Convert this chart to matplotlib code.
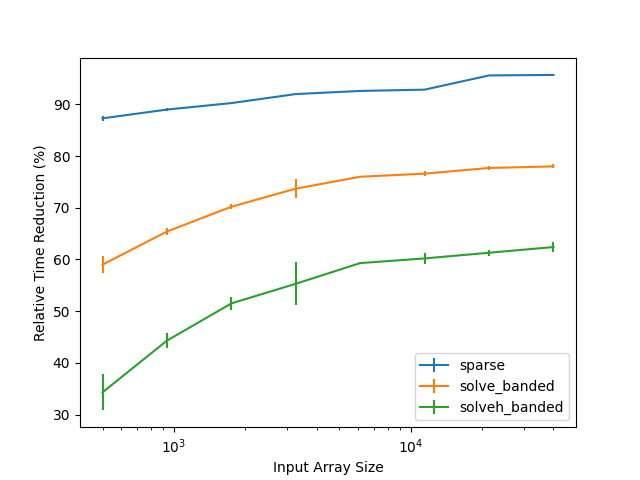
import matplotlib
matplotlib.use("Agg")
import matplotlib.pyplot as plt

sizes = [500, 935, 1749, 3271, 6117, 11439, 21392, 40000]

sparse = [87.3, 89.0, 90.25, 92.0, 92.6, 92.85, 95.6, 95.7]
sparse_err = [0.5, 0.25, 0.1, 0.1, 0.1, 0.1, 0.1, 0.1]

solve_banded = [59.0, 65.4, 70.2, 73.7, 76.0, 76.6, 77.7, 78.0]
solve_banded_err = [1.7, 0.7, 0.5, 1.8, 0.1, 0.45, 0.45, 0.4]

solveh_banded = [34.3, 44.3, 51.5, 55.3, 59.3, 60.2, 61.3, 62.4]
solveh_banded_err = [3.5, 1.4, 1.2, 4.2, 0.15, 1.0, 0.6, 1.0]

fig, ax = plt.subplots(figsize=(6.4, 4.8), dpi=100)
ax.errorbar(sizes, sparse, yerr=sparse_err, label="sparse")
ax.errorbar(sizes, solve_banded, yerr=solve_banded_err, label="solve_banded")
ax.errorbar(sizes, solveh_banded, yerr=solveh_banded_err, label="solveh_banded")
ax.set_xscale("log")
ax.set_xlabel("Input Array Size")
ax.set_ylabel("Relative Time Reduction (%)")
ax.legend(loc="lower right")
fig.savefig("out.png")
